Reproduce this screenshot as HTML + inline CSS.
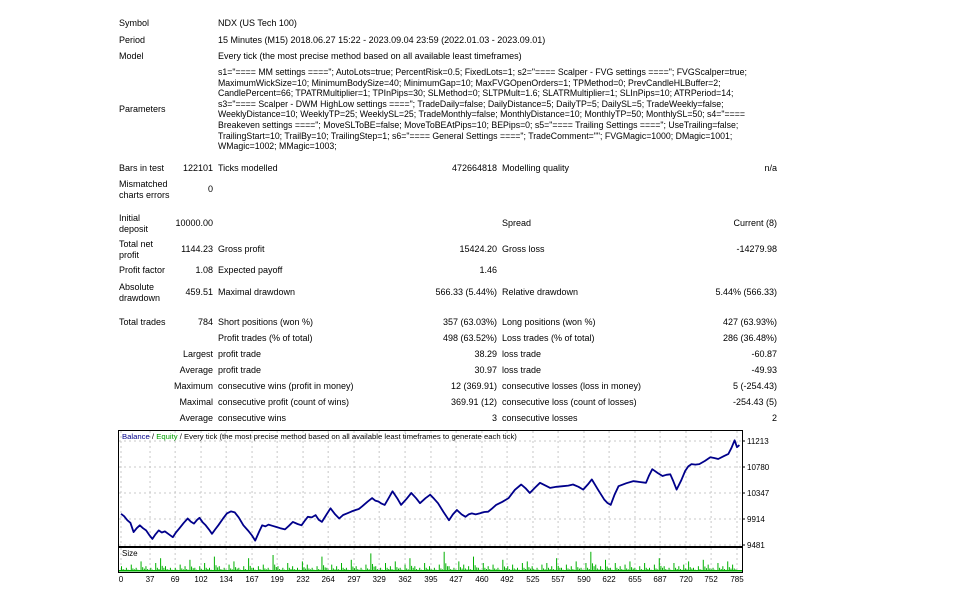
<!DOCTYPE html>
<html><head><meta charset="utf-8">
<style>
body{margin:0;width:960px;height:591px;background:#fff;font-family:"Liberation Sans","DejaVu Sans",sans-serif;font-size:9px;color:#000;position:relative;overflow:hidden}
.t{position:absolute;white-space:nowrap;line-height:10.5px}
.r{text-align:right}
</style></head><body>
<div class="t" style="left:119px;top:18px">Symbol</div>
<div class="t" style="left:218px;top:18px">NDX (US Tech 100)</div>
<div class="t" style="left:119px;top:35px">Period</div>
<div class="t" style="left:218px;top:35px">15 Minutes (M15) 2018.06.27 15:22 - 2023.09.04 23:59 (2022.01.03 - 2023.09.01)</div>
<div class="t" style="left:119px;top:51px">Model</div>
<div class="t" style="left:218px;top:51px">Every tick (the most precise method based on all available least timeframes)</div>
<div class="t" style="left:119px;top:104px">Parameters</div>
<div class="t" style="left:218px;top:67px;line-height:10.6px;font-size:8.75px">s1="==== MM settings ===="; AutoLots=true; PercentRisk=0.5; FixedLots=1; s2="==== Scalper - FVG settings ===="; FVGScalper=true;<br>MaximumWickSize=10; MinimumBodySize=40; MinimumGap=10; MaxFVGOpenOrders=1; TPMethod=0; PrevCandleHLBuffer=2;<br>CandlePercent=66; TPATRMultiplier=1; TPInPips=30; SLMethod=0; SLTPMult=1.6; SLATRMultiplier=1; SLInPips=10; ATRPeriod=14;<br>s3="==== Scalper - DWM HighLow settings ===="; TradeDaily=false; DailyDistance=5; DailyTP=5; DailySL=5; TradeWeekly=false;<br>WeeklyDistance=10; WeeklyTP=25; WeeklySL=25; TradeMonthly=false; MonthlyDistance=10; MonthlyTP=50; MonthlySL=50; s4="====<br>Breakeven settings ===="; MoveSLToBE=false; MoveToBEAtPips=10; BEPips=0; s5="==== Trailing Settings ===="; UseTrailing=false;<br>TrailingStart=10; TrailBy=10; TrailingStep=1; s6="==== General Settings ===="; TradeComment=""; FVGMagic=1000; DMagic=1001;<br>WMagic=1002; MMagic=1003;</div>

<div id="rows"></div>

<svg id="chart" width="960" height="591" style="position:absolute;left:0;top:0"></svg>

<script>
// ---- report rows ----
const rows=[
 [163,"Bars in test","122101","Ticks modelled","472664818","Modelling quality","n/a",false],
 [179,"Mismatched<br>charts errors","0","","","","",false],
 [213,"Initial<br>deposit","10000.00","","","Spread","Current (8)",false],
 [239,"Total net<br>profit","1144.23","Gross profit","15424.20","Gross loss","-14279.98",false],
 [265,"Profit factor","1.08","Expected payoff","1.46","","",false],
 [282,"Absolute<br>drawdown","459.51","Maximal drawdown","566.33 (5.44%)","Relative drawdown","5.44% (566.33)",false],
 [317,"Total trades","784","Short positions (won %)","357 (63.03%)","Long positions (won %)","427 (63.93%)",false],
 [333,"","","Profit trades (% of total)","498 (63.52%)","Loss trades (% of total)","286 (36.48%)",false],
 [349,"Largest","","profit trade","38.29","loss trade","-60.87",true],
 [365,"Average","","profit trade","30.97","loss trade","-49.93",true],
 [381,"Maximum","","consecutive wins (profit in money)","12 (369.91)","consecutive losses (loss in money)","5 (-254.43)",true],
 [397,"Maximal","","consecutive profit (count of wins)","369.91 (12)","consecutive loss (count of losses)","-254.43 (5)",true],
 [413,"Average","","consecutive wins","3","consecutive losses","2",true]
];
const rc=document.getElementById('rows');
rows.forEach((r,i)=>{
 const top=r[0], two=r[1].includes('<br>');
 const mk=(html,left,w,right,t)=>{
  const d=document.createElement('div');
  d.className='t'+(right?' r':'');
  
  
  d.style.top=t+'px';
  if(right){d.style.left=(left-w)+'px';d.style.width=w+'px';}else d.style.left=left+'px';
  d.innerHTML=html;rc.appendChild(d);
 };
 const vt=two?top+5:top;
 if(r[1]){ if(r[7]) mk(r[1],213,90,true,vt); else mk(r[1],119,80,false,top); }
 if(r[2]) mk(r[2],213,60,true,vt);
 if(r[3]) mk(r[3],218,0,false,vt);
 if(r[4]) mk(r[4],497,120,true,vt);
 if(r[5]) mk(r[5],502,0,false,vt);
 if(r[6]) mk(r[6],777,120,true,vt);
});

// ---- chart data ----
const trades=[0,4,8,12,16,20,24,28,32,36,40,44,48,52,56,61,66,70,74,80,85,89,93,97,100,104,108,112,116,120,124,130,135,140,145,150,156,162,167,171,176,180,184,188,193,198,203,209,214,219,225,230,234,238,243,248,252,256,262,267,273,278,283,288,294,299,303,307,314,320,324,328,332,336,341,346,352,357,364,370,376,381,388,394,399,404,411,418,423,428,434,439,443,447,452,457,463,468,473,478,486,494,502,510,516,521,528,534,541,547,555,563,570,576,583,589,595,600,608,616,620,624,629,634,644,653,661,669,673,677,684,690,695,700,704,708,714,719,723,727,732,737,744,751,756,761,768,774,778,782,785,788];
const balance=[10000,9960,9894,9850,9696,9760,9809,9760,9724,9650,9583,9660,9724,9690,9707,9660,9611,9690,9753,9850,9922,9870,9838,9900,9934,9860,9809,9740,9668,9740,9809,9920,10007,10040,10024,9940,9809,9720,9640,9555,9700,9809,9790,9821,9800,9781,9760,9741,9800,9866,9830,9809,9880,9951,9940,9979,9900,9866,9990,10092,9990,9922,9980,10007,10040,10064,10080,10121,10200,10262,10220,10206,10170,10149,10260,10375,10260,10149,10250,10347,10260,10177,10260,10319,10250,10177,10030,9894,9990,10064,9990,9951,9990,10007,9990,10007,10030,10036,10090,10149,10200,10262,10400,10489,10420,10347,10440,10517,10470,10432,10450,10460,10470,10489,10450,10404,10490,10574,10400,10234,10180,10149,10320,10460,10510,10545,10530,10517,10640,10743,10680,10630,10650,10659,10540,10404,10560,10715,10790,10828,10820,10828,10880,10941,10930,10913,10960,10998,11100,11224,11110,11144];
const yTicks=[11213,10780,10347,9914,9481];
const xTicks=[0,37,69,102,134,167,199,232,264,297,329,362,395,427,460,492,525,557,590,622,655,687,720,752,785];
const sizes=[3,2,4,2,6,3,2,5,8,3,2,2,4,3,7,2,3,5,2,9,3,2,4,6,2,3,8,2,3,4,2,10,3,2,5,3,2,6,4,2,3,9,2,4,3,5,2,7,3,2,4,11,3,2,5,3,6,2,4,8,3,2,5,3,2,4,12,3,2,6,4,3,9,2,5,3,4,2,7,3,4,2,5,6,3,2,4,5,3,8,2,4,3,6,2,5,12,4,3,7,2,5,3,4,6,2,3,5,2,4,8,3,2,5,3,4,6,2,3,7,4,2,5,3,6,4];

const NS='http://www.w3.org/2000/svg', svg=document.getElementById('chart');
const X0=121,X1=737,Ytop=441,Ybot=545;
const xs=t=>X0+(t-0)/(785-0)*(X1-X0);
const ys=v=>Ybot-(v-9481)/(11213-9481)*(Ybot-Ytop);
function el(tag,attrs,name){const e=document.createElementNS(NS,tag);for(const k in attrs)e.setAttribute(k,attrs[k]);svg.appendChild(e);return e;}
el('rect',{x:118.5,y:430.5,width:624,height:116,fill:'#fff',stroke:'#000','stroke-width':1},'main-panel');
el('rect',{x:118.5,y:547.5,width:624,height:25,fill:'#fff',stroke:'#000','stroke-width':1},'size-panel');
xTicks.forEach(t=>{const x=xs(t);
 el('line',{x1:x,y1:431,x2:x,y2:546,stroke:'#c8c8c8','stroke-dasharray':'2,3'},'grid-v');
 el('line',{x1:x,y1:548,x2:x,y2:572,stroke:'#c8c8c8','stroke-dasharray':'2,3'},'grid-v-size');
 const tx=el('text',{x:x,y:582,'font-size':8,'text-anchor':'middle','font-family':'Liberation Sans, sans-serif'},'x-tick-label');tx.textContent=t;
});
yTicks.forEach(v=>{const y=ys(v);
 el('line',{x1:119,y1:y,x2:742,y2:y,stroke:'#c8c8c8','stroke-dasharray':'2,3'},'grid-h');
 el('line',{x1:742,y1:y,x2:745,y2:y,stroke:'#000'},'y-tick');
 const tx=el('text',{x:747,y:y+3,'font-size':8,'font-family':'Liberation Sans, sans-serif'},'y-tick-label');tx.textContent=v;
});
const bw=(X1-X0)/sizes.length;
sizes.forEach((s,i)=>{const h=s*1.6;
 el('rect',{x:X0+i*bw,y:571-h,width:1,height:h,fill:'#00b000'},'size-bar');
 el('rect',{x:X0+i*bw+bw/3,y:571-h*0.4,width:1,height:h*0.4,fill:'#00b000'},'size-bar');
 el('rect',{x:X0+i*bw+2*bw/3,y:571-h*0.25,width:1,height:h*0.25,fill:'#00b000'},'size-bar');
});
el('rect',{x:119,y:570,width:623,height:1.5,fill:'#00b000'},'size-baseline');
const st=el('text',{x:122,y:556,'font-size':8,'font-family':'Liberation Sans, sans-serif'},'size-title');st.textContent='Size';
let d='';trades.forEach((t,i)=>{d+=(i?'L':'M')+xs(t).toFixed(1)+','+ys(balance[i]).toFixed(1);});
el('path',{d:d,fill:'none',stroke:'#00008b','stroke-width':1.8,'stroke-linejoin':'round'},'balance-line');
const lg=el('text',{x:122,y:439,'font-size':7.7,'font-family':'Liberation Sans, sans-serif'},'chart-legend');
lg.innerHTML='<tspan fill="#00008b">Balance</tspan> / <tspan fill="#00a000">Equity</tspan> / Every tick (the most precise method based on all available least timeframes to generate each tick)';
</script>
</body></html>
